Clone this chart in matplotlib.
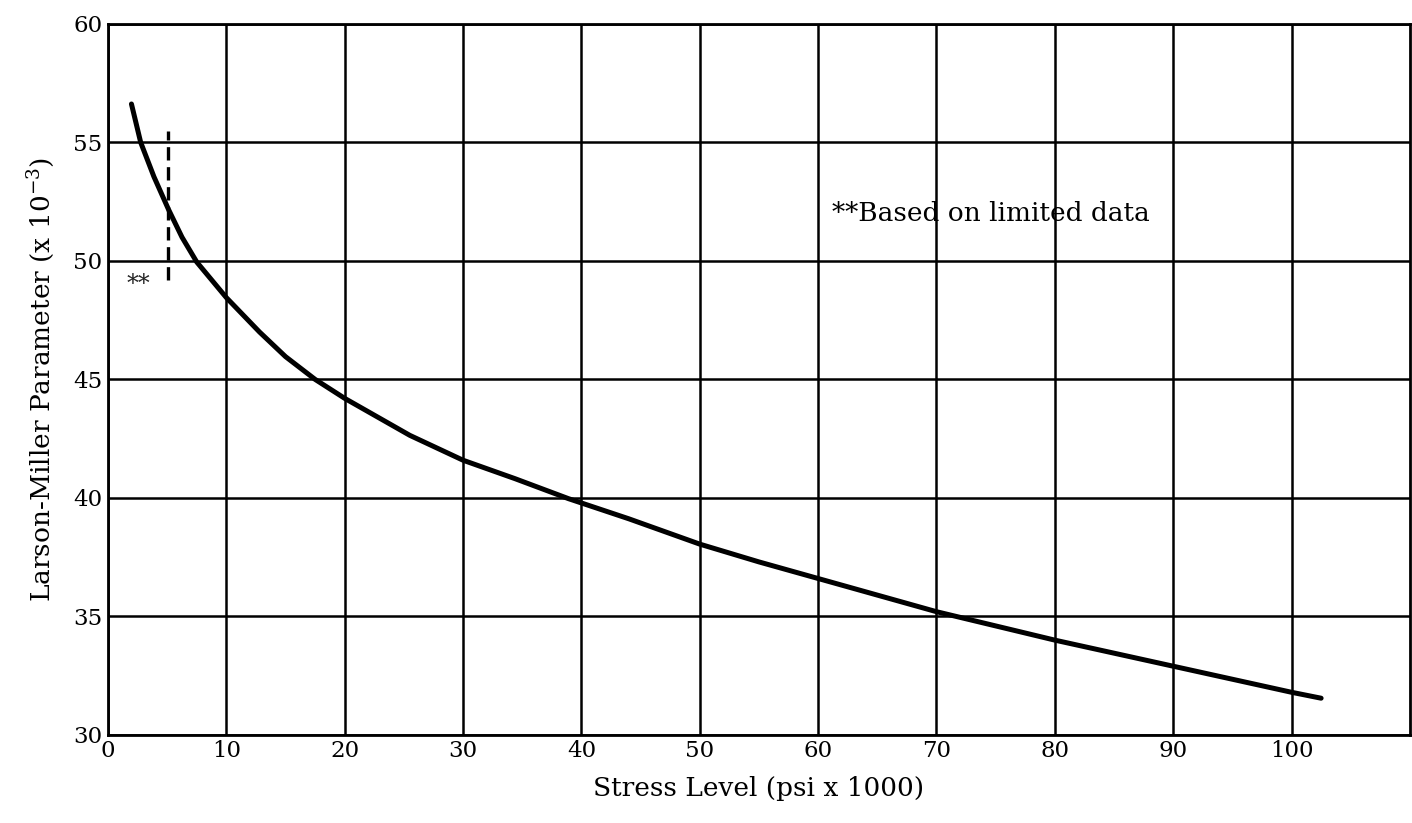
import matplotlib
matplotlib.use("Agg")
from matplotlib import pyplot as plt
import numpy as np

plt.rcParams["font.family"] = "DejaVu Serif"
plt.rcParams["mathtext.fontset"] = "dejavuserif"

# values
stress = [1.98, 2.76, 3.88, 5.13, 6.25, 7.5, 10.0, 12.8, 15.0, 17.5, 20.0, 25.5, 30.0,
          34.4, 38.9, 44.0, 50.0, 55, 60, 65, 70, 75, 80, 85, 90, 95, 100, 102.5]
lmp = [56.62, 55.0, 53.55, 52.15, 51.0, 49.95, 48.45, 47.0, 45.96, 45.0, 44.2, 42.64, 41.59,
       40.81, 39.97, 39.12, 38.05, 37.3, 36.6, 35.9, 35.2, 34.6, 34.0, 33.45, 32.9, 32.35, 31.8, 31.55]

limit_x = 5.1
limit_y = [49.2, 55.5]

xticks = np.arange(0, 101, 10)
yticks = np.arange(30, 61, 5)

fig = plt.figure(figsize=(14.12, 8.23), dpi=100)
ax = fig.add_axes([0.0765, 0.107, 0.922, 0.864])

ax.plot(stress, lmp, color="black", lw=3.6, solid_capstyle="round",
        solid_joinstyle="round", zorder=3)
ax.plot([limit_x, limit_x], limit_y, color="black", lw=2.4, dashes=(4, 2), zorder=3)
ax.text(2.6, 49.0, "**", fontsize=17, ha="center", va="center", color="#222222")
ax.text(61.2, 52.0, "**Based on limited data", fontsize=19, ha="left", va="center")

ax.set_xlim(0, 110)
ax.set_ylim(30, 60)
ax.set_xticks(xticks)
ax.set_yticks(yticks)
ax.grid(True, color="black", lw=1.8)
ax.set_axisbelow(True)
ax.tick_params(length=0, labelsize=16.5, pad=4)
for s in ax.spines.values():
    s.set_linewidth(2.0)

ax.set_xlabel("Stress Level (psi x 1000)", fontsize=19, labelpad=10)
ax.set_ylabel("Larson-Miller Parameter (x 10$^{-3}$)", fontsize=19, labelpad=12)

plt.savefig("out.png", dpi=100)
plt.close()
